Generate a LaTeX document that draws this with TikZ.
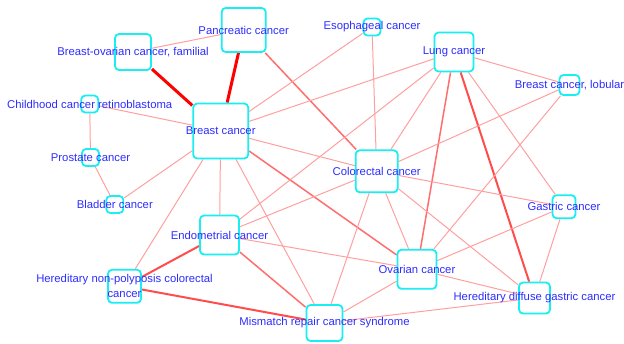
\documentclass[tikz,border=0pt]{standalone}
\usepackage{fontspec}
\setmainfont{Liberation Sans}
\usetikzlibrary{backgrounds}
\pgfdeclarelayer{bottom}
\pgfsetlayers{bottom,background,main}
\definecolor{boxc}{RGB}{25,238,242}
\definecolor{txtc}{RGB}{45,45,255}
\definecolor{ethin}{RGB}{255,160,160}
\definecolor{emed}{RGB}{255,110,110}
\definecolor{ethick}{RGB}{255,0,0}
\tikzset{
  box/.style={draw=boxc, line width=1.8pt, fill=white, rounded corners=4pt, inner sep=0pt, minimum size=#1},
  lbl/.style={text=txtc, font=\fontsize{11.3}{15}\selectfont, inner sep=0pt, align=center},
  ethinline/.style={draw=ethin, line width=1pt},
  emedline/.style={draw=emed, line width=1.5pt},
  estrong/.style={draw=emed!70!ethick, line width=2pt},
  ethickline/.style={draw=ethick, line width=3pt}
}
\newcommand{\cnode}[5]{%
  \node[box=#4] (#1) at (#2,#3) {};
  \node[lbl] (#1-l) at (#2,#3) {#5};}
\begin{document}
\begin{tikzpicture}[x=1pt,y=-1pt]
\begin{pgfonlayer}{bottom}
\fill[white] (0,0) rectangle (624,343);
\end{pgfonlayer}
\useasboundingbox (0,0) rectangle (624,343);
\cnode{panc}{243.7}{30}{44pt}{Pancreatic cancer}
\cnode{bo}{133}{52}{36pt}{Breast-ovarian cancer, familial}
\cnode{child}{89.7}{104}{17pt}{Childhood cancer retinoblastoma}
\cnode{breast}{220.7}{131}{55pt}{Breast cancer}
\cnode{prost}{90.5}{157.5}{17pt}{Prostate cancer}
\cnode{esoph}{372}{27}{17pt}{Esophageal cancer}
\cnode{lung}{454}{52}{39pt}{Lung cancer}
\cnode{lob}{569.5}{85}{20pt}{Breast cancer, lobular}
\cnode{colo}{376.7}{171.3}{42pt}{Colorectal cancer}
\cnode{blad}{114.8}{204.5}{17pt}{Bladder cancer}
\cnode{endo}{219.5}{235}{39pt}{Endometrial cancer}
\cnode{hnpcc}{124.5}{286.3}{33pt}{Hereditary non-polyposis colorectal\\cancer}
\cnode{mmr}{324.5}{323}{36pt}{Mismatch repair cancer syndrome}
\cnode{gast}{564}{206.7}{23pt}{Gastric cancer}
\cnode{ovar}{417}{269.3}{39pt}{Ovarian cancer}
\cnode{hdgc}{534.5}{298}{31pt}{Hereditary diffuse gastric cancer}
\begin{pgfonlayer}{background}
\draw[ethinline] (bo) -- (panc);
\draw[ethickline] (bo) -- (breast);
\draw[ethickline] (panc) -- (breast);
\draw[emedline] (panc) -- (colo);
\draw[ethinline] (child) -- (breast);
\draw[ethinline] (child) -- (prost);
\draw[ethinline] (prost) -- (blad);
\draw[ethinline] (blad) -- (breast);
\draw[ethinline] (breast) -- (esoph);
\draw[ethinline] (breast) -- (lung);
\draw[ethinline] (breast) -- (colo);
\draw[emedline] (breast) -- (ovar);
\draw[ethinline] (breast) -- (endo);
\draw[ethinline] (breast) -- (hnpcc);
\draw[ethinline] (breast) -- (mmr);
\draw[ethinline] (esoph) -- (colo);
\draw[ethinline] (lung) -- (lob);
\draw[ethinline] (lung) -- (endo);
\draw[ethinline] (lung) -- (colo);
\draw[emedline] (lung) -- (ovar);
\draw[estrong] (lung) -- (hdgc);
\draw[ethinline] (lung) -- (gast);
\draw[ethinline] (lob) -- (colo);
\draw[ethinline] (lob) -- (ovar);
\draw[ethinline] (colo) -- (gast);
\draw[ethinline] (colo) -- (endo);
\draw[ethinline] (colo) -- (ovar);
\draw[ethinline] (colo) -- (mmr);
\draw[ethinline] (colo) -- (hdgc);
\draw[ethinline] (endo) -- (ovar);
\draw[estrong] (endo) -- (hnpcc);
\draw[emedline] (endo) -- (mmr);
\draw[estrong] (hnpcc) -- (mmr);
\draw[ethinline] (ovar) -- (gast);
\draw[ethinline] (ovar) -- (hdgc);
\draw[ethinline] (ovar) -- (mmr);
\draw[ethinline] (gast) -- (hdgc);
\draw[ethinline] (mmr) -- (hdgc);
\end{pgfonlayer}
\end{tikzpicture}
\end{document}
